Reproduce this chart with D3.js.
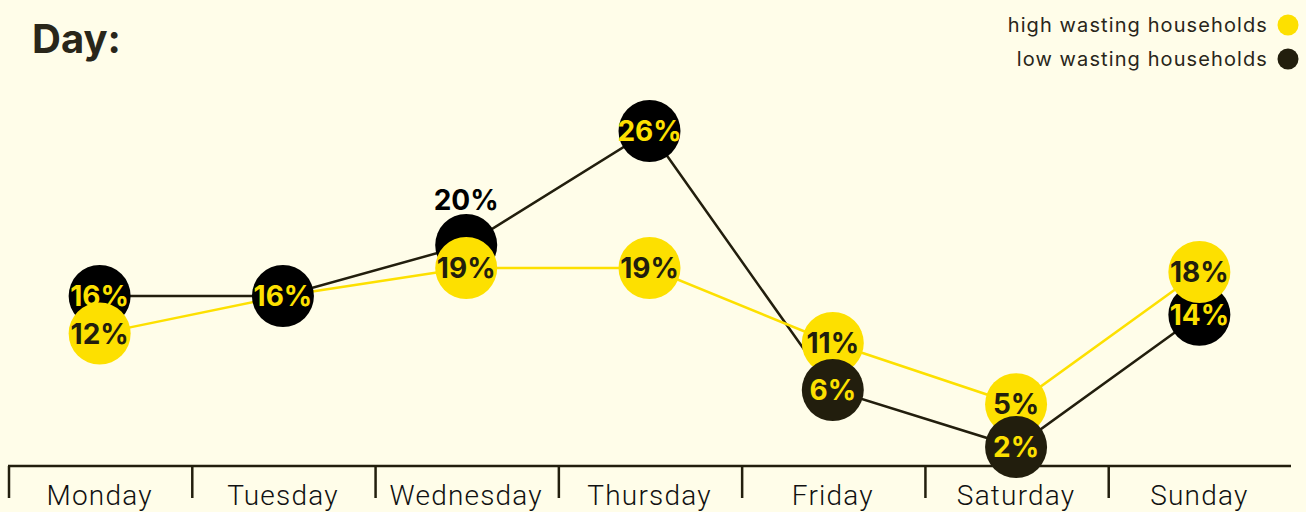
<!DOCTYPE html>
<html>
<head>
<meta charset="utf-8">
<script src="https://cdn.jsdelivr.net/npm/d3@7"></script>
<style>
  html, body { margin: 0; padding: 0; background: #fffde9; overflow: hidden; }
</style>
</head>
<body>
<div id="chart"></div>
<script>
var days = ["Monday", "Tuesday", "Wednesday", "Thursday", "Friday", "Saturday", "Sunday"];
var highWasting = [12, 16, 19, 19, 11, 5, 18];
var lowWasting = [16, 16, 20, 26, 6, 2, 14];
// days where the low wasting circle sits above the yellow one
var lowOnTop = ["Tuesday", "Friday", "Saturday"];
var seriesNames = ["high wasting households", "low wasting households"];

var width = 1306, height = 512;
var bg = "#fffde9", yellow = "#fde000", dark = "#221e0d", ink = "#29261a";

var svg = d3.select("#chart")
  .append("svg")
  .attr("width", width)
  .attr("height", height)
  .style("background", bg);

var x = d3.scaleBand()
  .domain(days)
  .range([8, 1291])
  .padding(0);

// the original spacing is not even, so use a few stops of a polylinear scale
var y = d3.scaleLinear()
  .domain([2, 6, 16, 18, 19, 20, 26])
  .range([447, 390, 296, 272, 268, 245, 131]);

var cx = function (d) { return x(d.day) + x.bandwidth() / 2; };
var r = 31;

var highData = days.map(function (d, i) { return { day: d, value: highWasting[i], series: "high" }; });
var lowData = days.map(function (d, i) { return { day: d, value: lowWasting[i], series: "low", other: highWasting[i] }; });

// title
svg.append("text")
  .attr("x", 32)
  .attr("y", 53)
  .attr("font-family", "Inter")
  .attr("font-weight", 700)
  .attr("font-size", "40px")
  .attr("fill", ink)
  .text("Day:");

// legend
var legend = svg.append("g").selectAll("g")
  .data(seriesNames)
  .enter()
  .append("g")
  .attr("transform", function (d, i) { return "translate(0," + (25 + i * 34) + ")"; });
legend.append("text")
  .attr("x", 1268)
  .attr("dy", "0.35em")
  .attr("text-anchor", "end")
  .attr("font-family", "Inter")
  .attr("font-weight", 400)
  .attr("font-size", "20px")
  .attr("letter-spacing", "1.1px")
  .attr("fill", ink)
  .text(function (d) { return d; });
legend.append("circle")
  .attr("cx", 1288)
  .attr("r", 10.5)
  .attr("fill", function (d, i) { return i === 0 ? yellow : dark; });

// axis
var axisG = svg.append("g").attr("transform", "translate(0,466)");
axisG.append("line")
  .attr("x1", x.range()[0])
  .attr("x2", x.range()[1])
  .attr("stroke", dark)
  .attr("stroke-width", 2.5);
axisG.selectAll(".tick-line")
  .data(days)
  .enter()
  .append("line")
  .attr("class", "tick-line")
  .attr("x1", function (d) { return x(d) + 1; })
  .attr("x2", function (d) { return x(d) + 1; })
  .attr("y1", 0)
  .attr("y2", 32)
  .attr("stroke", dark)
  .attr("stroke-width", 2.5);
axisG.selectAll(".tick-label")
  .data(days)
  .enter()
  .append("text")
  .attr("class", "tick-label")
  .attr("x", function (d) { return x(d) + x.bandwidth() / 2; })
  .attr("y", 39)
  .attr("text-anchor", "middle")
  .attr("font-family", "Roboto")
  .attr("font-weight", 300)
  .attr("font-size", "28px")
  .attr("letter-spacing", "1.2px")
  .attr("fill", "#111")
  .text(function (d) { return d; });

// lines
var line = d3.line()
  .x(cx)
  .y(function (d) { return y(d.value); });

svg.append("path")
  .datum(lowData)
  .attr("fill", "none")
  .attr("stroke", dark)
  .attr("stroke-width", 2.5)
  .attr("d", line);

svg.append("path")
  .datum(highData)
  .attr("fill", "none")
  .attr("stroke", yellow)
  .attr("stroke-width", 2.5)
  .attr("d", line);

function drawDots(data, fill, textFill) {
  var g = svg.append("g").selectAll("g")
    .data(data)
    .enter()
    .append("g")
    .attr("transform", function (d) { return "translate(" + cx(d) + "," + y(d.value) + ")"; });
  g.append("circle")
    .attr("r", r)
    .attr("fill", fill);
  g.append("text")
    .attr("dy", "0.36em")
    .attr("text-anchor", "middle")
    .attr("font-family", "Inter")
    .attr("font-weight", 700)
    .attr("font-size", "28px")
    .attr("fill", textFill)
    .text(function (d) { return d.value + "%"; });
  return g;
}

// low wasting circles that sit under the yellow ones
var under = lowData.filter(function (d) { return lowOnTop.indexOf(d.day) < 0; });
var underG = drawDots(under, "#000", yellow);
// label moved above when the circle is mostly hidden
underG.filter(function (d) { return Math.abs(y(d.value) - y(d.other)) < 30 && d.value !== d.other; })
  .select("text")
  .attr("y", -45)
  .attr("fill", "#000");

drawDots(highData.filter(function (d) { return !(lowOnTop.indexOf(d.day) >= 0 && lowWasting[days.indexOf(d.day)] === d.value); }), yellow, dark);

var over = lowData.filter(function (d) { return lowOnTop.indexOf(d.day) >= 0; });
drawDots(over, function (d) { return d.value < d.other ? dark : "#000"; }, yellow);
</script>
</body>
</html>
